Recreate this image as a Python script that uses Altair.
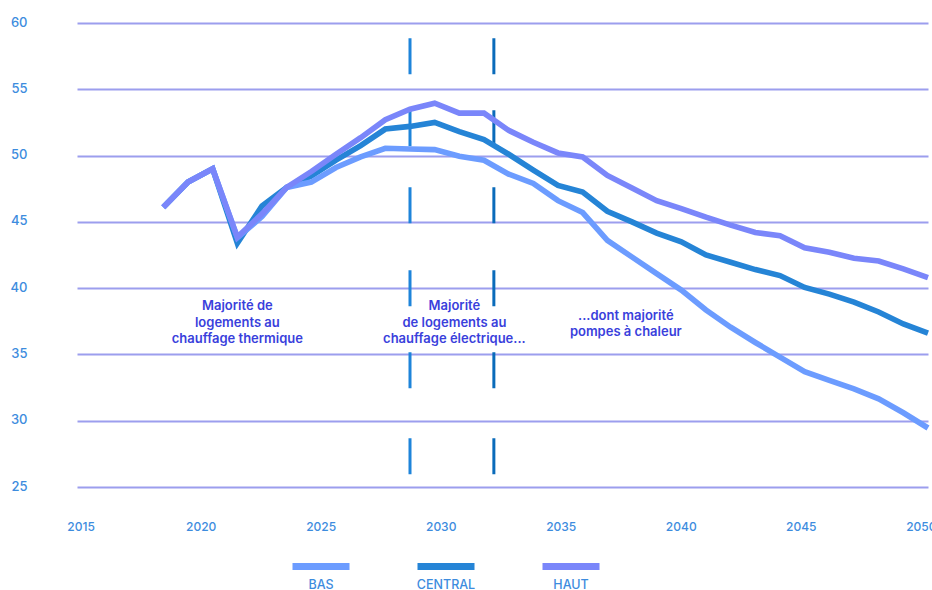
import altair as alt
import pandas as pd

# Consommation projetée, 2019-2050, trois scénarios
years = list(range(2019, 2051))
bas = [46.1, 48.0, 49.0, 43.8, 45.4, 47.6, 48.0, 49.1, 49.9, 50.55,
       50.5, 50.45, 49.95, 49.65, 48.6, 47.9, 46.6, 45.7, 43.6, 42.35,
       41.1, 39.85, 38.35, 37.05, 35.9, 34.8, 33.7, 33.05, 32.4, 31.65,
       30.6, 29.45]
central = [46.1, 48.0, 49.0, 43.4, 46.2, 47.6, 48.45, 49.65, 50.75, 52.0,
           52.2, 52.5, 51.8, 51.2, 50.1, 48.9, 47.75, 47.25, 45.8, 45.0,
           44.15, 43.5, 42.5, 41.95, 41.4, 40.95, 40.05, 39.55, 38.95, 38.2,
           37.3, 36.6]
haut = [46.1, 48.0, 49.0, 43.85, 45.6, 47.6, 48.8, 50.1, 51.35, 52.7,
        53.5, 53.95, 53.2, 53.2, 51.9, 51.0, 50.2, 49.9, 48.5, 47.55,
        46.6, 46.0, 45.35, 44.75, 44.2, 43.95, 43.05, 42.7, 42.25, 42.05,
        41.45, 40.8]

series_names = ["BAS", "CENTRAL", "HAUT"]
series_colors = ["#6C9CFF", "#2584D6", "#7A86FA"]

# Années de bascule (traits pointillés)
transition_years = [2029.0, 2032.4]
transition_colors = ["#1E84DA", "#0A6BBA"]

# Annotations (position de la première ligne de chaque bloc)
note_x = [2022.0, 2030.8, 2037.75]
note_y = [38.65, 38.65, 37.9]
note_text = [
    "Majorité de\nlogements au\nchauffage thermique",
    "Majorité\nde logements au\nchauffage électrique...",
    "...dont majorité\npompes à chaleur",
]

x_tick_labels = [2015, 2020, 2025, 2030, 2035, 2040, 2045, 2050]
y_tick_values = [25, 30, 35, 40, 45, 50, 55, 60]

W, H = 851, 464
FONT = "Inter"
AXIS_BLUE = "#3D8CDE"
NOTE_BLUE = "#3A3FDC"

series_data = {"BAS": bas, "CENTRAL": central, "HAUT": haut}

x_data_scale = alt.Scale(domain=[2015.5, 2050], nice=False, zero=False)
x_label_scale = alt.Scale(domain=[2014.85, 2050.3], nice=False, zero=False)
y_scale = alt.Scale(domain=[25, 60], nice=False, zero=False)
color_scale = alt.Scale(domain=series_names, range=series_colors)
# légende horizontale, sous le graphique, un peu à gauche du centre
legend_scale = alt.Scale(type="point", domain=series_names, range=[244, 494], padding=0)

y_axis = alt.Axis(
    values=y_tick_values, title=None, grid=True, gridColor="#9C9EEE", gridWidth=2.2,
    domain=False, ticks=False, tickSize=0, labelPadding=50, labelAlign="right",
    labelBaseline="middle", labelOffset=-1, labelColor=AXIS_BLUE, labelFont=FONT,
    labelFontSize=13, labelFontWeight=500,
)

# Courbes (ordre de tracé : CENTRAL, BAS, HAUT)
line_layers = []
for name in ["CENTRAL", "BAS", "HAUT"]:
    df = pd.DataFrame({"year": years, "value": series_data[name], "series": name})
    line_layers.append(
        alt.Chart(df).mark_line(strokeWidth=5.6).encode(
            x=alt.X("year:Q", scale=x_data_scale, axis=None),
            y=alt.Y("value:Q", scale=y_scale, axis=y_axis),
            color=alt.Color("series:N", scale=color_scale, legend=None),
        )
    )

rules_df = pd.DataFrame({"year": transition_years, "c": transition_colors})
rules = alt.Chart(rules_df).mark_rule(
    strokeWidth=3,
    strokeDash=[0, 15.3, 36, 36, 36, 41, 36, 47, 36, 46, 36, 50, 36, 100],
).encode(
    x=alt.X("year:Q", scale=x_data_scale, axis=None),
    y=alt.value(0),
    y2=alt.value(H),
    color=alt.Color("c:N", scale=None),
)

notes_df = pd.DataFrame({"year": note_x, "value": note_y, "label": note_text})
notes = alt.Chart(notes_df).mark_text(
    lineBreak="\n", align="center", baseline="middle", font=FONT, fontSize=13,
    fontWeight=600, color=NOTE_BLUE, lineHeight=16.5,
).encode(
    x=alt.X("year:Q", scale=x_data_scale, axis=None),
    y=alt.Y("value:Q", scale=y_scale, axis=y_axis),
    text="label:N",
)

# Axe des années
ticks_df = pd.DataFrame({"year": x_tick_labels})
x_axis_layer = alt.Chart(ticks_df).mark_point(opacity=0).encode(
    x=alt.X(
        "year:Q", scale=x_label_scale,
        axis=alt.Axis(values=x_tick_labels, format="d", title=None, grid=False,
                      domain=False, ticks=False, tickSize=0, labelPadding=34,
                      labelFlush=False, labelOverlap=False, labelColor=AXIS_BLUE,
                      labelFont=FONT, labelFontSize=12, labelFontWeight=500),
    ),
)

# Légende
legend_df = pd.DataFrame({"series": series_names})
legend_swatch = alt.Chart(legend_df).mark_tick(
    orient="horizontal", size=57, thickness=7, opacity=1
).encode(
    x=alt.X("series:N", scale=legend_scale, axis=None),
    y=alt.value(H + 79.5),
    color=alt.Color("series:N", scale=color_scale, legend=None),
)
legend_text = alt.Chart(legend_df).mark_text(
    align="center", baseline="middle", font=FONT, fontSize=12.5, fontWeight=500,
    color=AXIS_BLUE,
).encode(
    x=alt.X("series:N", scale=legend_scale, axis=None),
    y=alt.value(H + 97.5),
    text="series:N",
)

chart = (
    alt.layer(rules, *line_layers, notes, x_axis_layer, legend_swatch, legend_text)
    .resolve_scale(x="independent")
    .resolve_axis(x="independent")
    .properties(
        width=W, height=H, autosize="none",
        padding={"left": 77, "top": 23, "right": 4, "bottom": 103},
        background="white",
    )
    .configure_view(strokeWidth=0)
)

chart.save("out.html", embed_options={"renderer": "svg", "actions": False})
